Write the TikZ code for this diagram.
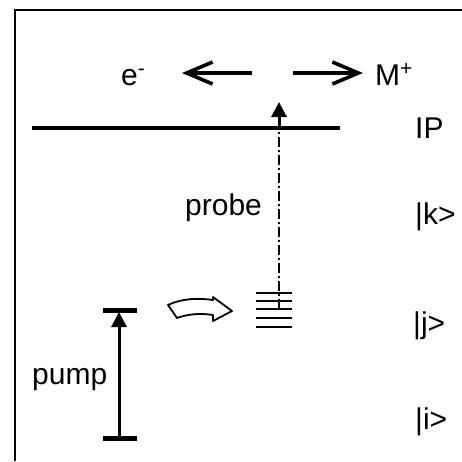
\documentclass[tikz,border=0pt]{standalone}
\usepackage{fontspec}
\setmainfont{Liberation Sans}
\usetikzlibrary{arrows.meta}
\begin{document}
\begin{tikzpicture}[x=1pt,y=-1pt,
  lbl/.style={font=\fontsize{30}{34}\selectfont, inner sep=0pt, anchor=base west},
  levelline/.style={line width=3.2pt},
  barline/.style={line width=5pt},
  stackline/.style={line width=2.2pt},
  bigarrow/.style={line width=3.4pt, -{Straight Barb[length=26pt,width=22pt,line width=3.6pt]}},
  probearrow/.style={line width=2.8pt, dash pattern=on 10pt off 3pt on 2pt off 3pt},
  tiparrow/.style={line width=3pt, -{Triangle[length=15pt,width=15pt]}},
  hollow/.style={line width=1.8pt, line join=round, fill=white}]
\useasboundingbox (0,0) rectangle (462,461);
% frame
\draw[line width=1.5pt] (15,461) -- (15,10) -- (462,10);
% labels
\node[lbl] (em) at (121,85) {e\textsuperscript{-}};
\node[lbl] (mp) at (375,85) {M\textsuperscript{+}};
\node[lbl] (ip) at (415,138) {IP};
\node[lbl] (kk) at (415,224) {|k>};
\node[lbl] (jj) at (413,333) {|j>};
\node[lbl] (ii) at (415,429) {|i>};
\node[lbl] (probe) at (185,215) {probe};
\node[lbl] (pump) at (32,384) {pump};
% ionization arrows
\coordinate (la) at (252,73); \coordinate (lt) at (182,73);
\coordinate (ra) at (293,73); \coordinate (rt) at (363,73);
\draw[bigarrow] (la) -- (lt);
\draw[bigarrow] (ra) -- (rt);
% IP level
\coordinate (ipl) at (32,128); \coordinate (ipr) at (340,128);
\draw[levelline] (ipl) -- (ipr);
% stack of levels j
\foreach \yy in {293,301,309,318,327} {
  \draw[stackline] (256,\yy) -- (292,\yy);
}
% probe
\coordinate (pb) at (279,309);
\coordinate (pm) at (279,128);
\coordinate (pt) at (279,102);
\draw[probearrow] (pb) -- (pm);
\draw[tiparrow] (pm) -- (pt);
% pump
\coordinate (pi1) at (103,438); \coordinate (pi2) at (137,438);
\coordinate (pj1) at (103,310); \coordinate (pj2) at (137,310);
\draw[barline] (pi1) -- (pi2);
\draw[barline] (pj1) -- (pj2);
\coordinate (pumpbot) at (119,438);
\coordinate (pumptop) at (119,312);
\draw[tiparrow] (pumpbot) -- (pumptop);
% hollow curved arrow
\draw[hollow] (168,305) .. controls (183,298) and (199,298) .. (213,300)
  -- (213,297) -- (232,311) -- (213,321) -- (213,315)
  .. controls (200,313) and (188,314) .. (177,318) -- cycle;
\end{tikzpicture}
\end{document}
